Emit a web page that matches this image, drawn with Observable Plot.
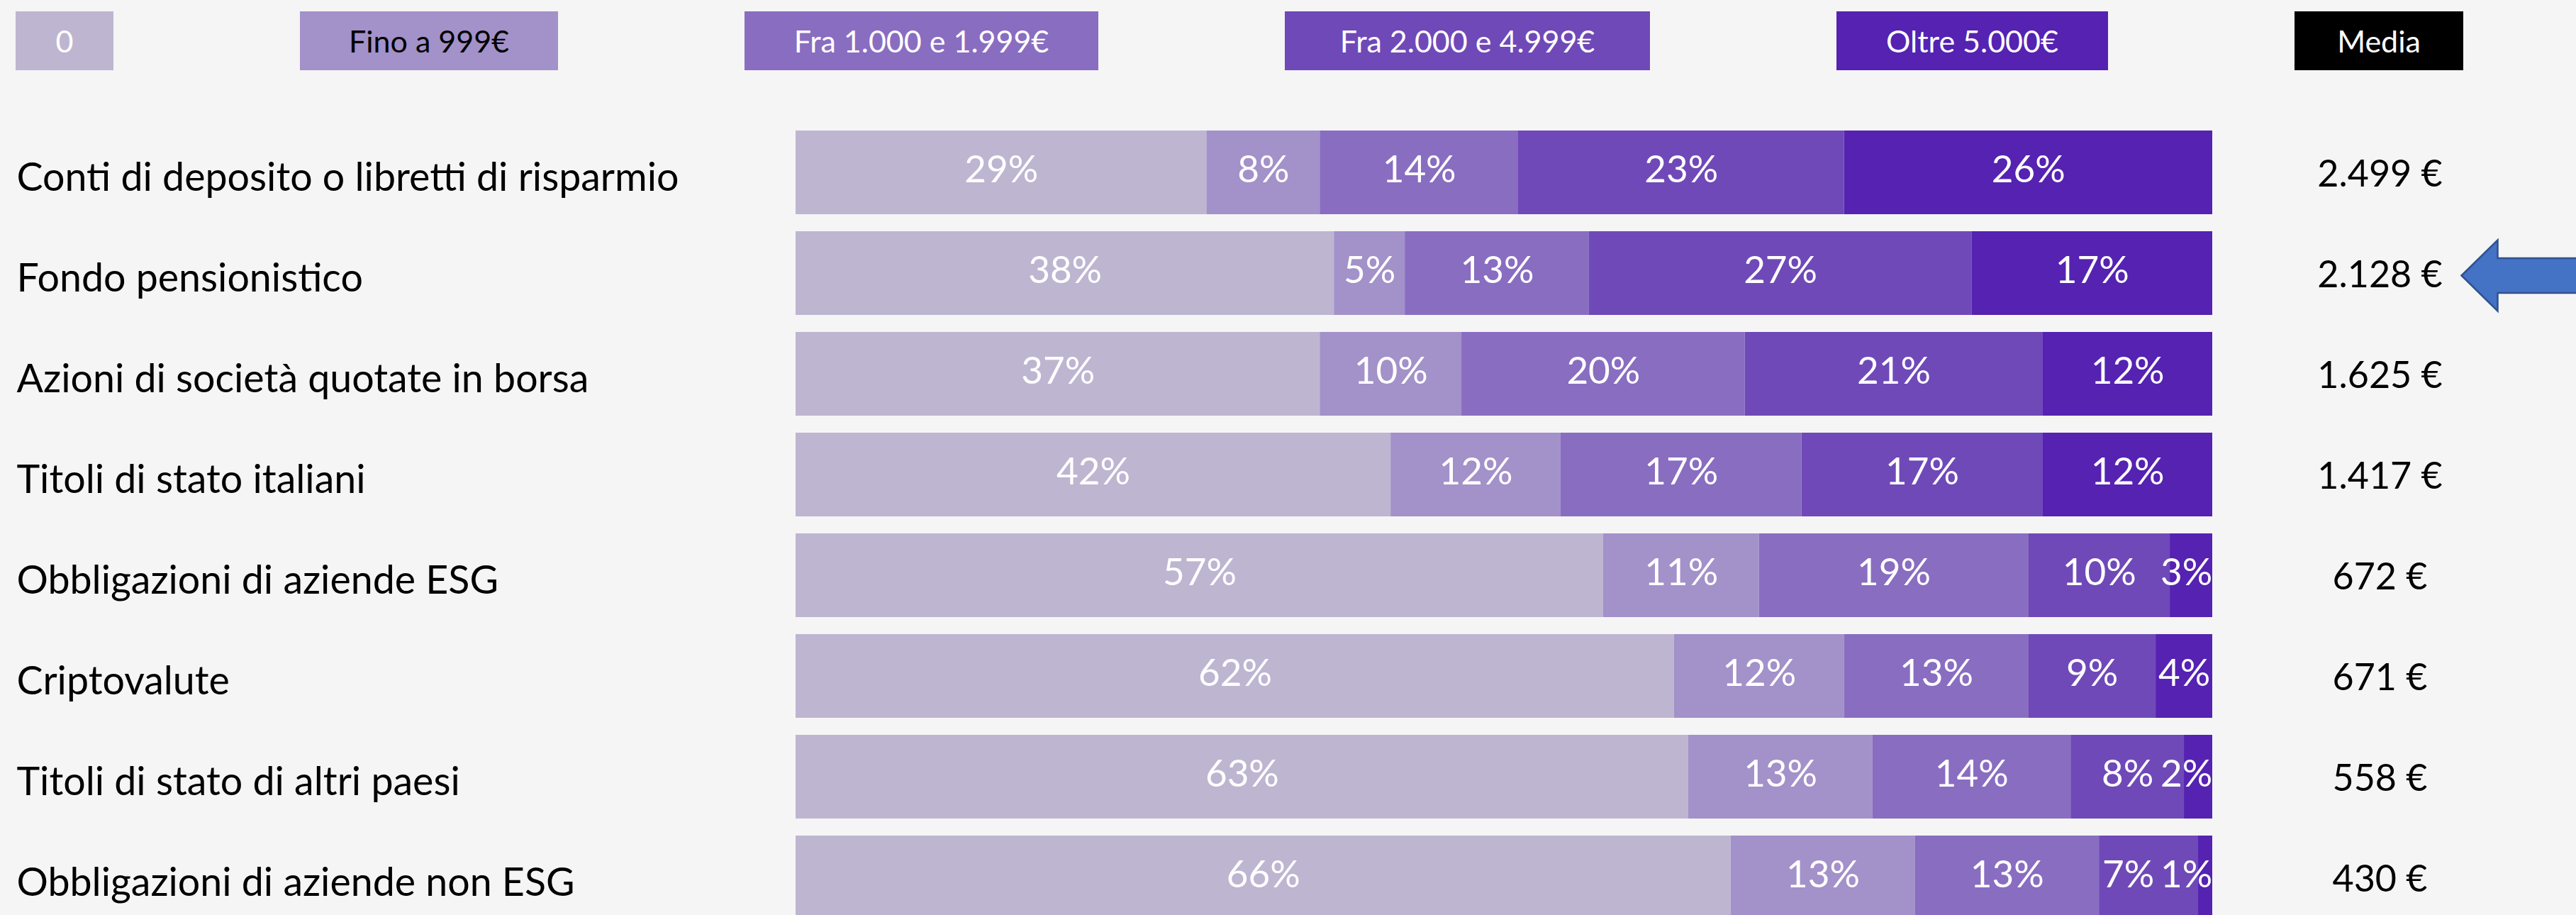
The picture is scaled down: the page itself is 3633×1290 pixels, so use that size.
<!DOCTYPE html>
<html><head><meta charset="utf-8">
<script src="https://cdn.jsdelivr.net/npm/d3@7"></script>
<script src="https://cdn.jsdelivr.net/npm/@observablehq/plot@0.6"></script>
<style>
html,body{margin:0;padding:0;background:#f5f5f5;overflow:hidden;width:3633px;height:1290px}
#legend{height:130px;display:flex;align-items:flex-start;padding-left:22px;padding-top:16px;box-sizing:border-box;gap:263px;font-family:Lato,sans-serif}
.key{height:83px;display:flex;align-items:center;justify-content:center;font-size:43px;color:#fff;white-space:nowrap}
#chart svg{display:block}
</style></head><body>
<div id="legend"></div>
<div id="chart"></div>
<script>
// ---- data ----
const categories = [
  "Conti di deposito o libretti di risparmio",
  "Fondo pensionistico",
  "Azioni di società quotate in borsa",
  "Titoli di stato italiani",
  "Obbligazioni di aziende ESG",
  "Criptovalute",
  "Titoli di stato di altri paesi",
  "Obbligazioni di aziende non ESG"
];
const seriesNames = ["0", "Fino a 999€", "Fra 1.000 e 1.999€", "Fra 2.000 e 4.999€", "Oltre 5.000€"];
const serie0     = [29, 38, 37, 42, 57, 62, 63, 66];
const serieFino999 = [8, 5, 10, 12, 11, 12, 13, 13];
const serie1000  = [14, 13, 20, 17, 19, 13, 14, 13];
const serie2000  = [23, 27, 21, 17, 10, 9, 8, 7];
const serie5000  = [26, 17, 12, 12, 3, 4, 2, 1];
const media      = [2499, 2128, 1625, 1417, 672, 671, 558, 430];
const mediaLabel = "Media";
const highlighted = "Fondo pensionistico";

// ---- styles ----
const colors = ["#beb5d1", "#a391c9", "#896dc1", "#6f49b8", "#5522b2"];
const legendText = ["#fff", "#000", "#fff", "#fff", "#fff"];
const legendWidths = [138, 364, 499, 515, 383];
const FONT = "Lato, sans-serif";

// ---- legend (HTML above the svg) ----
const legend = document.getElementById("legend");
seriesNames.forEach((s, j) => {
  const d = document.createElement("div");
  d.className = "key";
  d.style.width = legendWidths[j] + "px";
  d.style.background = colors[j];
  d.style.color = legendText[j];
  d.textContent = s;
  legend.appendChild(d);
});
{
  const d = document.createElement("div");
  d.className = "key";
  d.style.width = "238px";
  d.style.background = "#000";
  d.textContent = mediaLabel;
  legend.appendChild(d);
}

// ---- table ----
const allSeries = [serie0, serieFino999, serie1000, serie2000, serie5000];
const segs = [];
const seps = [];
categories.forEach((cat, i) => {
  let acc = 0;
  const row = [];
  allSeries.forEach((arr, j) => {
    const v = arr[i];
    const o = {cat, series: seriesNames[j], value: v, x1: acc, x2: acc + v, label: v + "%"};
    row.push(o);
    segs.push(o);
    if (j > 0) seps.push({cat, x: acc});
    acc += v;
  });
  // label placement: centred, pushed left to stay inside bar / avoid overlap
  let limit = 99.9;
  for (let j = row.length - 1; j >= 0; j--) {
    const o = row[j];
    const half = (o.label.length <= 2 ? 3.5 : 5.0) / 2;
    const mid = (o.x1 + o.x2) / 2;
    o.lx = Math.min(mid, limit - half);
    limit = o.lx - half - 0.6;
  }
});
const fmt = d3.formatLocale({decimal: ",", thousands: ".", grouping: [3], currency: ["", "€"]}).format(",");
const mediaRows = categories.map((cat, i) => ({cat, text: fmt(media[i]) + " €"}));

const arrowSymbol = {
  draw(ctx) {
    ctx.moveTo(-162, 0);
    ctx.lineTo(-111, -50);
    ctx.lineTo(-111, -24.5);
    ctx.lineTo(6, -24.5);
    ctx.lineTo(6, 24.5);
    ctx.lineTo(-111, 24.5);
    ctx.lineTo(-111, 50);
    ctx.closePath();
  }
};

const chart = Plot.plot({
  width: 3633,
  height: 1160,
  marginLeft: 0, marginRight: 0, marginTop: 0, marginBottom: 0,
  style: {background: "transparent", fontFamily: FONT, overflow: "hidden"},
  x: {domain: [0, 100], range: [1122, 3120], axis: null},
  y: {domain: categories, range: [30, 1190], padding: 24 / 142, axis: null},
  color: {domain: seriesNames, range: colors},
  marks: [
    Plot.barX(segs, {y: "cat", x1: "x1", x2: "x2", fill: "series"}),
    Plot.ruleX(seps, {x: "x", y: "cat", stroke: "#5a4a80", strokeOpacity: 0.35, strokeWidth: 1}),
    Plot.text(segs, {y: "cat", x: "lx", text: "label", fill: "#fff", fontSize: 53, dy: -3}),
    Plot.text(categories, {y: d => d, text: d => d, frameAnchor: "left", dx: 23, textAnchor: "start", fill: "#000", fontSize: 55.5, dy: 8}),
    Plot.text(mediaRows, {y: "cat", text: "text", frameAnchor: "right", dx: -277, textAnchor: "middle", fill: "#000", fontSize: 52, dy: 3}),
    Plot.dot([highlighted], {y: d => d, frameAnchor: "right", symbol: arrowSymbol, r: 10, fill: "#4472c4", stroke: "#2f528f", strokeWidth: 2.5, dy: 3})
  ]
});
document.getElementById("chart").appendChild(chart);
</script>
</body></html>
